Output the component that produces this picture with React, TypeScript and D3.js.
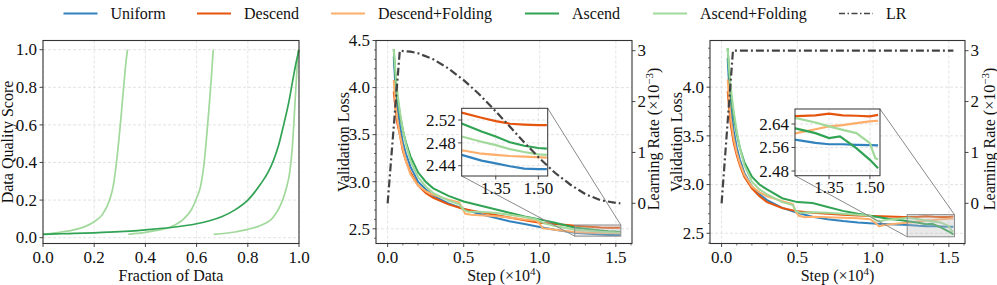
import React from "react";
import * as d3 from "d3";

type Pt = [number, number];

const FONT = "'Liberation Serif', 'Times New Roman', Times, serif";

// ---------- legend / series ----------
const seriesNames = ["Uniform", "Descend", "Descend+Folding", "Ascend", "Ascend+Folding"];
const seriesColors = ["#3182bd", "#e6550d", "#fdae6b", "#31a354", "#a1d99b"];
const lrName = "LR";
const lrColor = "#444444";

// ---------- panel 1: data quality score ----------
const ascendScore: Pt[] = [
  [0, 0.018], [0.05, 0.02], [0.1, 0.022], [0.2, 0.026], [0.3, 0.032], [0.4, 0.042], [0.5, 0.054],
  [0.6, 0.074], [0.65, 0.09], [0.7, 0.113], [0.75, 0.148], [0.8, 0.2], [0.85, 0.285], [0.88, 0.35],
  [0.9, 0.41], [0.92, 0.49], [0.94, 0.6], [0.96, 0.72], [0.98, 0.87], [0.99, 0.94], [1.0, 1.0],
];
const foldSeg1: Pt[] = [
  [0, 0.018], [0.05, 0.026], [0.1, 0.036], [0.15, 0.052], [0.2, 0.085], [0.23, 0.12], [0.26, 0.2],
  [0.275, 0.28], [0.287, 0.4], [0.297, 0.53], [0.306, 0.66], [0.315, 0.8], [0.323, 0.92], [0.33, 1.0],
];
const foldSeg2: Pt[] = [
  [0.333, 0.018], [0.4, 0.028], [0.45, 0.04], [0.5, 0.058], [0.55, 0.1], [0.58, 0.15], [0.6, 0.21],
  [0.615, 0.27], [0.628, 0.38], [0.638, 0.52], [0.648, 0.68], [0.657, 0.84], [0.665, 1.0],
];
const foldSeg3: Pt[] = [
  [0.667, 0.018], [0.75, 0.03], [0.8, 0.044], [0.85, 0.065], [0.9, 0.11], [0.93, 0.18], [0.95, 0.26],
  [0.965, 0.36], [0.975, 0.5], [0.982, 0.66], [0.99, 0.85], [0.997, 1.0],
];
const p1Ticks = [0, 0.2, 0.4, 0.6, 0.8, 1.0];

// ---------- panel 2: cosine LR ----------
const cosUniform: Pt[] = [
  [0.04, 4.33], [0.05, 4.05], [0.06, 3.85], [0.08, 3.6], [0.1, 3.42], [0.12, 3.3], [0.15, 3.16],
  [0.2, 3.0], [0.25, 2.92], [0.3, 2.85], [0.4, 2.77], [0.5, 2.71], [0.6, 2.66], [0.7, 2.62],
  [0.8, 2.58], [0.9, 2.55], [1.0, 2.52], [1.1, 2.49], [1.2, 2.465], [1.23, 2.459], [1.3, 2.449],
  [1.35, 2.444], [1.4, 2.439], [1.45, 2.435], [1.5, 2.434], [1.53, 2.434],
];
const cosDescend: Pt[] = [
  [0.04, 3.96], [0.05, 3.8], [0.06, 3.65], [0.08, 3.5], [0.1, 3.33], [0.12, 3.22], [0.15, 3.1],
  [0.2, 2.96], [0.25, 2.88], [0.3, 2.83], [0.4, 2.76], [0.5, 2.71], [0.6, 2.68], [0.7, 2.65],
  [0.8, 2.62], [0.9, 2.59], [1.0, 2.565], [1.1, 2.55], [1.2, 2.538], [1.23, 2.533], [1.3, 2.524],
  [1.35, 2.518], [1.4, 2.5135], [1.45, 2.512], [1.5, 2.511], [1.53, 2.511],
];
const cosDescendFold: Pt[] = [
  [0.04, 4.08], [0.05, 3.85], [0.06, 3.7], [0.08, 3.5], [0.1, 3.35], [0.12, 3.22], [0.15, 3.08],
  [0.2, 2.96], [0.25, 2.9], [0.3, 2.86], [0.4, 2.81], [0.47, 2.78], [0.49, 2.72], [0.51, 2.66],
  [0.55, 2.65], [0.6, 2.645], [0.7, 2.635], [0.8, 2.62], [0.9, 2.6], [0.98, 2.585], [1.0, 2.55],
  [1.02, 2.505], [1.05, 2.5], [1.1, 2.49], [1.2, 2.472], [1.23, 2.467], [1.3, 2.461],
  [1.35, 2.459], [1.4, 2.457], [1.45, 2.456], [1.53, 2.454],
];
const cosAscend: Pt[] = [
  [0.04, 4.41], [0.05, 4.15], [0.06, 3.95], [0.08, 3.72], [0.1, 3.55], [0.12, 3.42], [0.15, 3.27],
  [0.2, 3.1], [0.25, 3.0], [0.3, 2.93], [0.4, 2.85], [0.5, 2.79], [0.6, 2.75], [0.7, 2.71],
  [0.8, 2.67], [0.9, 2.63], [1.0, 2.6], [1.1, 2.565], [1.2, 2.525], [1.23, 2.514], [1.3, 2.5],
  [1.35, 2.491], [1.4, 2.481], [1.45, 2.475], [1.5, 2.471], [1.53, 2.47],
];
const cosAscendFold: Pt[] = [
  [0.04, 4.41], [0.05, 4.2], [0.06, 4.0], [0.08, 3.75], [0.1, 3.55], [0.12, 3.4], [0.15, 3.22],
  [0.2, 3.05], [0.25, 2.95], [0.3, 2.88], [0.4, 2.8], [0.47, 2.76], [0.5, 2.7], [0.53, 2.68],
  [0.6, 2.68], [0.7, 2.67], [0.8, 2.65], [0.9, 2.625], [0.98, 2.6], [1.02, 2.565], [1.05, 2.55],
  [1.1, 2.53], [1.2, 2.5], [1.23, 2.491], [1.3, 2.482], [1.35, 2.476], [1.4, 2.469],
  [1.45, 2.464], [1.5, 2.46], [1.53, 2.459],
];
const cosLR: Pt[] = [
  [0, 0], [0.08, 3.0], [0.15, 2.98], [0.2, 2.95], [0.3, 2.83], [0.4, 2.65], [0.5, 2.42],
  [0.6, 2.15], [0.7, 1.84], [0.8, 1.52], [0.9, 1.19], [1.0, 0.88], [1.1, 0.6], [1.2, 0.37],
  [1.3, 0.18], [1.4, 0.06], [1.5, 0.01], [1.53, 0.0],
];

// ---------- panel 3: constant LR ----------
const constUniform: Pt[] = [
  [0.04, 4.3], [0.05, 4.0], [0.06, 3.8], [0.08, 3.55], [0.1, 3.38], [0.12, 3.26], [0.15, 3.12],
  [0.2, 2.98], [0.25, 2.9], [0.3, 2.84], [0.4, 2.76], [0.5, 2.71], [0.6, 2.67], [0.7, 2.645],
  [0.8, 2.625], [0.9, 2.61], [1.0, 2.6], [1.1, 2.593], [1.2, 2.588], [1.23, 2.586], [1.3, 2.576],
  [1.35, 2.571], [1.4, 2.571], [1.45, 2.569], [1.5, 2.568], [1.53, 2.567],
];
const constDescend: Pt[] = [
  [0.04, 3.96], [0.05, 3.78], [0.06, 3.62], [0.08, 3.43], [0.1, 3.3], [0.12, 3.2], [0.15, 3.08],
  [0.2, 2.96], [0.25, 2.88], [0.3, 2.82], [0.4, 2.76], [0.5, 2.725], [0.6, 2.71], [0.7, 2.7],
  [0.8, 2.69], [0.9, 2.683], [1.0, 2.677], [1.1, 2.672], [1.2, 2.668], [1.23, 2.667], [1.3, 2.669],
  [1.35, 2.675], [1.4, 2.669], [1.45, 2.668], [1.5, 2.666], [1.53, 2.671],
];
const constDescendFold: Pt[] = [
  [0.04, 4.08], [0.05, 3.85], [0.06, 3.68], [0.08, 3.47], [0.1, 3.33], [0.12, 3.22], [0.15, 3.1],
  [0.2, 2.98], [0.25, 2.92], [0.3, 2.88], [0.4, 2.83], [0.47, 2.8], [0.49, 2.72], [0.51, 2.68],
  [0.55, 2.665], [0.6, 2.67], [0.7, 2.665], [0.8, 2.66], [0.9, 2.655], [0.98, 2.645], [1.02, 2.6],
  [1.04, 2.57], [1.07, 2.585], [1.1, 2.59], [1.2, 2.605], [1.23, 2.609], [1.3, 2.622],
  [1.35, 2.632], [1.4, 2.636], [1.45, 2.643], [1.5, 2.649], [1.53, 2.651],
];
const constAscend: Pt[] = [
  [0.04, 4.4], [0.05, 4.15], [0.06, 3.95], [0.08, 3.7], [0.1, 3.52], [0.12, 3.38], [0.15, 3.23],
  [0.2, 3.08], [0.25, 3.0], [0.3, 2.95], [0.4, 2.86], [0.5, 2.82], [0.6, 2.81], [0.7, 2.77],
  [0.8, 2.73], [0.9, 2.7], [1.0, 2.675], [1.1, 2.65], [1.2, 2.63], [1.23, 2.624], [1.3, 2.609],
  [1.35, 2.592], [1.39, 2.598], [1.45, 2.558], [1.5, 2.518], [1.53, 2.489],
];
const constAscendFold: Pt[] = [
  [0.04, 4.4], [0.05, 4.18], [0.06, 4.0], [0.08, 3.75], [0.1, 3.55], [0.12, 3.38], [0.15, 3.2],
  [0.2, 3.03], [0.25, 2.95], [0.3, 2.9], [0.4, 2.82], [0.47, 2.79], [0.49, 2.73], [0.52, 2.71],
  [0.6, 2.715], [0.7, 2.71], [0.8, 2.7], [0.9, 2.69], [0.98, 2.68], [1.02, 2.63], [1.05, 2.625],
  [1.1, 2.64], [1.2, 2.655], [1.23, 2.66], [1.3, 2.645], [1.35, 2.632], [1.4, 2.62],
  [1.45, 2.609], [1.5, 2.575], [1.52, 2.523], [1.53, 2.52],
];
const constLR: Pt[] = [[0, 0], [0.075, 3.0], [1.53, 3.0]];

const stepTicks = [0, 0.5, 1.0, 1.5];
const lrTicks = [0, 1, 2, 3];
const cosLossTicks = [2.5, 3.0, 3.5, 4.0, 4.5];
const constLossTicks = [2.5, 3.0, 3.5, 4.0];
const insetStepTicks = [1.35, 1.5];
const cosInsetTicks = [2.44, 2.48, 2.52];
const constInsetTicks = [2.48, 2.56, 2.64];

// ---------- layout ----------
const TOP = 40.5;
const BOT = 243.5;
const TICK_FS = 17;
const LABEL_FS = 16;
const XLABEL_Y = 281;
const SPINE = "#333";
const GRID = "#dcdcdc";

type Scale = d3.ScaleLinear<number, number>;

function Grid({ x, y, xt, yt }: { x: Scale; y: Scale; xt: number[]; yt: number[] }) {
  const [xa, xb] = x.range();
  const [ya, yb] = y.range();
  return (
    <g stroke={GRID} strokeWidth={0.8} strokeDasharray="3,2">
      {xt.map((t) => (
        <line key={"gx" + t} x1={x(t)} x2={x(t)} y1={ya} y2={yb} />
      ))}
      {yt.map((t) => (
        <line key={"gy" + t} y1={y(t)} y2={y(t)} x1={xa} x2={xb} />
      ))}
    </g>
  );
}

function minorRange(lo: number, hi: number, step: number, majors: number[]) {
  const out: number[] = [];
  const start = Math.ceil(lo / step - 1e-9);
  for (let i = start; i * step <= hi + 1e-9; i++) {
    const v = +(i * step).toFixed(6);
    if (!majors.some((m) => Math.abs(m - v) < 1e-6)) out.push(v);
  }
  return out;
}

function BottomAxis({ x, yPos, ticks, fmt, minor, fs = TICK_FS, gap = 19 }: any) {
  return (
    <g>
      {ticks.map((t: number) => (
        <g key={"bt" + t}>
          <line x1={x(t)} x2={x(t)} y1={yPos} y2={yPos + 3.5} stroke={SPINE} strokeWidth={0.9} />
          <text x={x(t)} y={yPos + gap} textAnchor="middle" fontSize={fs} fontFamily={FONT} fill="#111">
            {fmt(t)}
          </text>
        </g>
      ))}
      {(minor || []).map((t: number) => (
        <line key={"bm" + t} x1={x(t)} x2={x(t)} y1={yPos} y2={yPos + 2} stroke={SPINE} strokeWidth={0.7} />
      ))}
    </g>
  );
}

function LeftAxis({ y, xPos, ticks, fmt, minor, fs = TICK_FS }: any) {
  return (
    <g>
      {ticks.map((t: number) => (
        <g key={"lt" + t}>
          <line x1={xPos - 3.5} x2={xPos} y1={y(t)} y2={y(t)} stroke={SPINE} strokeWidth={0.9} />
          <text x={xPos - 6} y={y(t) + fs * 0.34} textAnchor="end" fontSize={fs} fontFamily={FONT} fill="#111">
            {fmt(t)}
          </text>
        </g>
      ))}
      {(minor || []).map((t: number) => (
        <line key={"lm" + t} x1={xPos - 2} x2={xPos} y1={y(t)} y2={y(t)} stroke={SPINE} strokeWidth={0.7} />
      ))}
    </g>
  );
}

function RightAxis({ y, xPos, ticks, fmt, minor }: any) {
  return (
    <g>
      {ticks.map((t: number) => (
        <g key={"rt" + t}>
          <line x1={xPos} x2={xPos + 3.5} y1={y(t)} y2={y(t)} stroke={SPINE} strokeWidth={0.9} />
          <text x={xPos + 5.5} y={y(t) + TICK_FS * 0.34} textAnchor="start" fontSize={TICK_FS} fontFamily={FONT} fill="#111">
            {fmt(t)}
          </text>
        </g>
      ))}
      {(minor || []).map((t: number) => (
        <line key={"rm" + t} x1={xPos} x2={xPos + 2} y1={y(t)} y2={y(t)} stroke={SPINE} strokeWidth={0.7} />
      ))}
    </g>
  );
}

function Frame({ x0, x1, y0, y1, sw = 1.1 }: any) {
  return <rect x={x0} y={y0} width={x1 - x0} height={y1 - y0} fill="none" stroke={SPINE} strokeWidth={sw} />;
}

const f1 = (v: number) => v.toFixed(1);
const f2 = (v: number) => v.toFixed(2);
const f0 = (v: number) => String(v);

function Panel1() {
  const x0 = 43, x1 = 299;
  const x = d3.scaleLinear().domain([0, 1]).range([x0, x1]);
  const y = d3.scaleLinear().domain([-0.031, 1.049]).range([BOT, TOP]);
  const line = d3.line<Pt>().x((d) => x(d[0])).y((d) => y(d[1])).curve(d3.curveMonotoneX);
  return (
    <g>
      <Grid x={x} y={y} xt={p1Ticks} yt={p1Ticks} />
      {[foldSeg1, foldSeg2, foldSeg3].map((s, i) => (
        <path key={i} d={line(s) || ""} fill="none" stroke={seriesColors[4]} strokeWidth={1.7} />
      ))}
      <path d={line(ascendScore) || ""} fill="none" stroke={seriesColors[3]} strokeWidth={1.7} />
      <Frame x0={x0} x1={x1} y0={TOP} y1={BOT} />
      <BottomAxis x={x} yPos={BOT} ticks={p1Ticks} fmt={f1} />
      <LeftAxis y={y} xPos={x0} ticks={p1Ticks} fmt={f1} />
      <text x={(x0 + x1) / 2} y={XLABEL_Y} textAnchor="middle" fontSize={LABEL_FS} fontFamily={FONT} fill="#111">
        Fraction of Data
      </text>
      <text
        transform={`translate(12.5,${(TOP + BOT) / 2}) rotate(-90)`}
        textAnchor="middle"
        fontSize={LABEL_FS}
        fontFamily={FONT}
        fill="#111"
      >
        Data Quality Score
      </text>
    </g>
  );
}

function LossPanel({
  id, x0, x1, yDom, lossTicks, series, lr, inset, insetTicks, leftLabelX, rightLabelX,
}: any) {
  const x = d3.scaleLinear().domain([-0.0765, 1.6065]).range([x0, x1]);
  const y = d3.scaleLinear().domain(yDom).range([BOT, TOP]);
  const yr = d3.scaleLinear().domain([-0.79, 3.2]).range([BOT, TOP]);
  const line = d3.line<Pt>().x((d) => x(d[0])).y((d) => y(d[1]));
  const lrLine = d3.line<Pt>().x((d) => x(d[0])).y((d) => yr(d[1]));

  // inset
  const ix = d3.scaleLinear().domain(inset.xd).range([inset.x0, inset.x1]);
  const iy = d3.scaleLinear().domain(inset.yd).range([inset.y1, inset.y0]);
  const iline = d3.line<Pt>().x((d) => ix(d[0])).y((d) => iy(d[1]));

  const rx0 = x(inset.xd[0]), rx1 = x(inset.xd[1]);
  const ry0 = y(inset.yd[1]), ry1 = y(inset.yd[0]);

  const clipId = "clip-" + id;
  const yMinor = minorRange(yDom[0], yDom[1], 0.1, lossTicks);
  const xMinor = minorRange(-0.07, 1.6, 0.1, stepTicks);

  return (
    <g>
      <defs>
        <clipPath id={clipId}>
          <rect x={inset.x0} y={inset.y0} width={inset.x1 - inset.x0} height={inset.y1 - inset.y0} />
        </clipPath>
      </defs>
      <Grid x={x} y={y} xt={stepTicks} yt={lossTicks} />
      {series.map((s: Pt[], i: number) => (
        <path key={i} d={line(s) || ""} fill="none" stroke={seriesColors[i]} strokeWidth={2} />
      ))}
      {/* zoom rectangle */}
      <rect x={rx0} y={ry0} width={rx1 - rx0} height={ry1 - ry0} fill="#bdbdbd" fillOpacity={0.35} stroke="#8a8a8a" strokeWidth={1} />
      <line x1={inset.x0} y1={inset.y1} x2={rx0} y2={ry1} stroke="#8a8a8a" strokeWidth={1} />
      <line x1={inset.x1} y1={inset.y0} x2={rx1} y2={ry0} stroke="#8a8a8a" strokeWidth={1} />
      {/* inset */}
      <rect x={inset.x0} y={inset.y0} width={inset.x1 - inset.x0} height={inset.y1 - inset.y0} fill="#fff" />
      <Grid x={ix} y={iy} xt={insetStepTicks} yt={insetTicks} />
      <g clipPath={`url(#${clipId})`}>
        {series.map((s: Pt[], i: number) => (
          <path key={i} d={iline(s) || ""} fill="none" stroke={seriesColors[i]} strokeWidth={2.2} />
        ))}
      </g>
      <Frame x0={inset.x0} x1={inset.x1} y0={inset.y0} y1={inset.y1} sw={1} />
      <BottomAxis x={ix} yPos={inset.y1} ticks={insetStepTicks} fmt={f2} gap={17.5} />
      <LeftAxis y={iy} xPos={inset.x0} ticks={insetTicks} fmt={f2} />
      {/* LR */}
      <path d={lrLine(lr) || ""} fill="none" stroke={lrColor} strokeWidth={2.2} strokeDasharray="8,3,2,3" />
      <Frame x0={x0} x1={x1} y0={TOP} y1={BOT} />
      <BottomAxis x={x} yPos={BOT} ticks={stepTicks} fmt={f1} minor={xMinor} />
      <LeftAxis y={y} xPos={x0} ticks={lossTicks} fmt={f1} minor={yMinor} />
      <RightAxis y={yr} xPos={x1} ticks={lrTicks} fmt={f0} />
      <text x={(x0 + x1) / 2} y={XLABEL_Y} textAnchor="middle" fontSize={LABEL_FS} fontFamily={FONT} fill="#111">
        Step (×10<tspan dy={-6} fontSize={11}>4</tspan><tspan dy={6}>)</tspan>
      </text>
      <text
        transform={`translate(${leftLabelX},${(TOP + BOT) / 2}) rotate(-90)`}
        textAnchor="middle"
        fontSize={LABEL_FS}
        fontFamily={FONT}
        fill="#111"
      >
        Validation Loss
      </text>
      <text
        transform={`translate(${rightLabelX},139) rotate(-90)`}
        textAnchor="middle"
        fontSize={LABEL_FS}
        fontFamily={FONT}
        fill="#111"
      >
        Learning Rate (×10<tspan dy={-6} fontSize={11}>−3</tspan><tspan dy={6}>)</tspan>
      </text>
    </g>
  );
}

const legendX = [63.5, 197, 331, 525, 653, 839];

function Legend() {
  const items = [...seriesNames.map((n, i) => ({ n, c: seriesColors[i], dash: "" })), { n: lrName, c: lrColor, dash: "6,2.5,1.5,2.5" }];
  return (
    <g>
      {items.map((it, i) => (
        <g key={it.n}>
          <line x1={legendX[i]} x2={legendX[i] + 34} y1={13.5} y2={13.5} stroke={it.c} strokeWidth={i === 5 ? 1.6 : 2} strokeDasharray={it.dash || undefined} />
          <text x={legendX[i] + 47} y={18.8} fontSize={16} fontFamily={FONT} fill="#111">
            {it.n}
          </text>
        </g>
      ))}
    </g>
  );
}

export default function App() {
  return (
    <svg width={997} height={285} style={{ position: "absolute", left: 0, top: 0, background: "#fff" }}>
      <rect width={997} height={285} fill="#fff" />
      <Legend />
      <Panel1 />
      <LossPanel
        id="cos"
        x0={376}
        x1={632}
        yDom={[2.344, 4.5]}
        lossTicks={cosLossTicks}
        series={[cosUniform, cosDescend, cosDescendFold, cosAscend, cosAscendFold]}
        lr={cosLR}
        inset={{ x0: 461.7, x1: 547.7, y0: 108.3, y1: 176, xd: [1.23, 1.533], yd: [2.422, 2.5405] }}
        insetTicks={cosInsetTicks}
        leftLabelX={348.5}
        rightLabelX={658.5}
      />
      <LossPanel
        id="const"
        x0={710}
        x1={965}
        yDom={[2.395, 4.479]}
        lossTicks={constLossTicks}
        series={[constUniform, constDescend, constDescendFold, constAscend, constAscendFold]}
        lr={constLR}
        inset={{ x0: 795, x1: 880, y0: 109, y1: 175.7, xd: [1.225, 1.537], yd: [2.464, 2.691] }}
        insetTicks={constInsetTicks}
        leftLabelX={682}
        rightLabelX={995}
      />
    </svg>
  );
}
